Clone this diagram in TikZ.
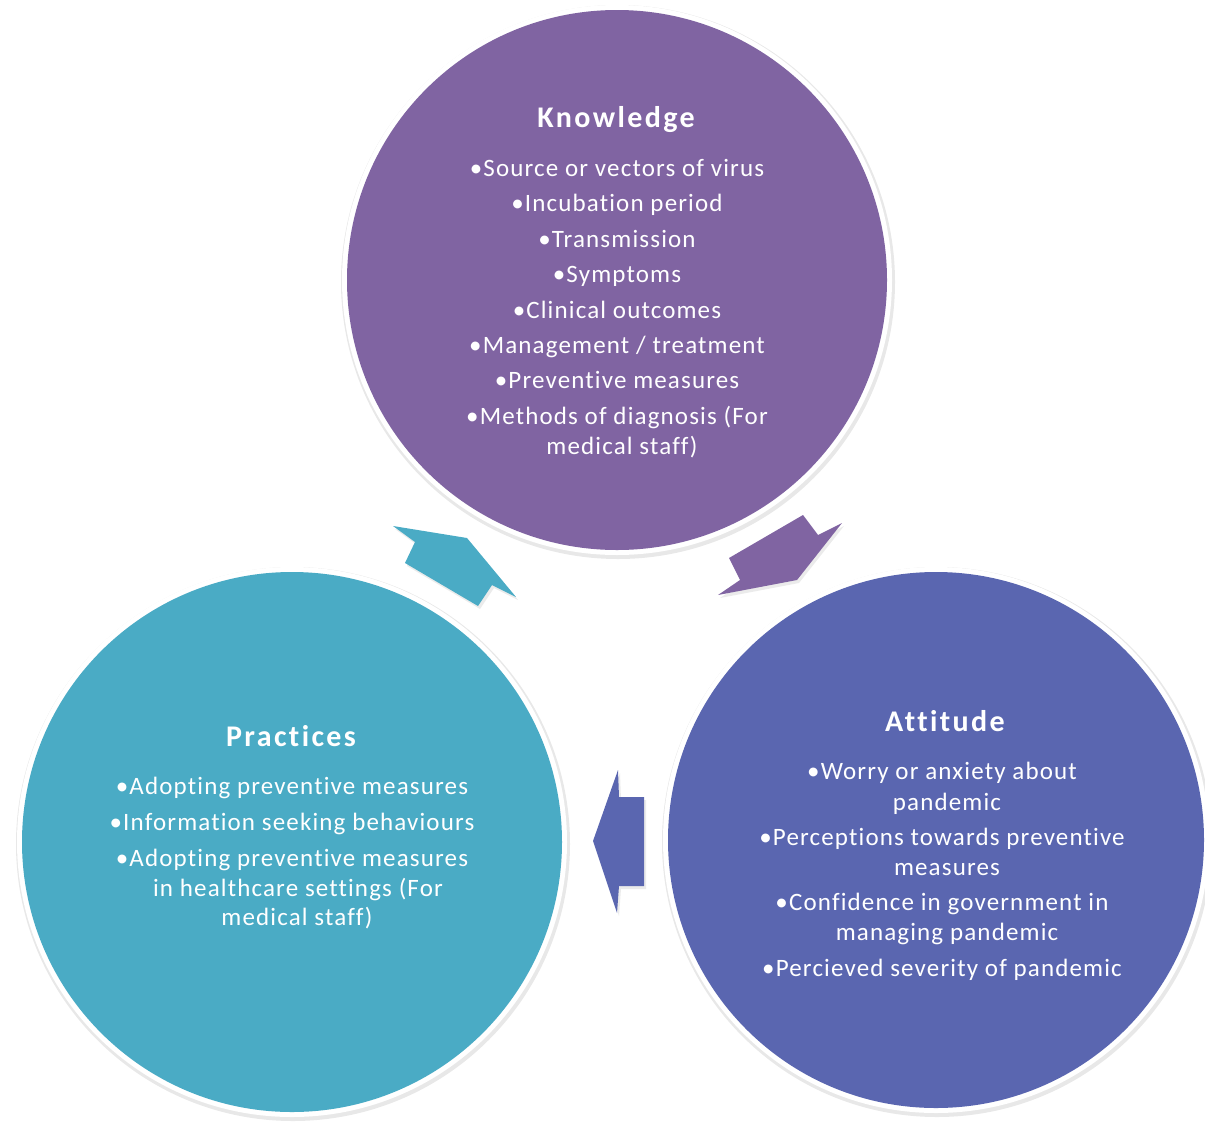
\documentclass[tikz,border=0pt]{standalone}
\usepackage{fontspec}
\setmainfont{Carlito}
\newfontfamily\bodyfont[LetterSpace=4.6,Ligatures=NoCommon]{Carlito}
\newfontfamily\titlefont[LetterSpace=8,Ligatures=NoCommon]{Carlito}
\definecolor{kpurple}{HTML}{8064A2}
\definecolor{ablue}{HTML}{5A66B0}
\definecolor{pteal}{HTML}{4AABC5}
\begin{document}
\begin{tikzpicture}[x=1pt,y=-1pt,
  title/.style={anchor=base,text=white,font=\titlefont\fontsize{30}{34}\selectfont\bfseries,inner sep=0pt},
  item/.style={anchor=base,text=white,font=\bodyfont\fontsize{25}{29}\selectfont,inner sep=0pt},
  bubble/.style={fill=#1},
  ring/.style={fill=white},
  halo/.style={fill=black!9},
  arrowshade/.style={fill=black!8}]
\useasboundingbox (0,0) rectangle (1205,1122);
% circles
\foreach \cx/\cy/\r/\c/\nm in {617/280/270/kpurple/K,292/842/270/pteal/P,936/840/268/ablue/A}{
  \fill[halo] (\cx+1,\cy+2) circle[radius=\r+7];
  \fill[ring] (\cx,\cy) circle[radius=\r+5];
  \fill[bubble=\c] (\cx,\cy) circle[radius=\r];
  \coordinate (\nm) at (\cx,\cy);
}
% arrows
\fill[arrowshade] (805,518) -- (820,538) -- (844,526) -- (799,583) -- (720,598) -- (742,583) -- (731,561) -- cycle;
\fill[kpurple] (803,515) -- (818,535) -- (842,523) -- (797,580) -- (718,595) -- (740,580) -- (729,558) -- cycle;
\fill[arrowshade] (407,566) -- (417,545) -- (395,529) -- (469,541) -- (518,600) -- (494,588) -- (480,609) -- cycle;
\fill[pteal] (405,563) -- (415,542) -- (393,526) -- (467,538) -- (516,597) -- (492,585) -- (478,606) -- cycle;
\fill[arrowshade] (620,773) -- (621,800) -- (646,800) -- (646,889) -- (621,889) -- (619,916) -- (595,844) -- cycle;
\fill[ablue] (618,770) -- (619,797) -- (644,797) -- (644,886) -- (619,886) -- (617,913) -- (593,841) -- cycle;
% Knowledge
\node[title] (kt) at (616,127) {Knowledge};
\node[item] (k1) at (617,176) {•Source or vectors of virus};
\node[item] (k2) at (617,211) {•Incubation period};
\node[item] (k3) at (617,247) {•Transmission};
\node[item] (k4) at (617,282) {•Symptoms};
\node[item] (k5) at (617,318) {•Clinical outcomes};
\node[item] (k6) at (617,353) {•Management / treatment};
\node[item] (k7) at (617,388) {•Preventive measures};
\node[item] (k8) at (617,424) {•Methods of diagnosis (For};
\node[item] (k9) at (622,454) {medical staff)};
% Practices
\node[title] (pt) at (291,746) {Practices};
\node[item] (p1) at (292,794) {•Adopting preventive measures};
\node[item] (p2) at (292,830) {•Information seeking behaviours};
\node[item] (p3) at (292,866) {•Adopting preventive measures};
\node[item] (p4) at (298,896) {in healthcare settings (For};
\node[item] (p5) at (297,925) {medical staff)};
% Attitude
\node[title] (at) at (945,731) {Attitude};
\node[item] (a1) at (942,779) {•Worry or anxiety about};
\node[item] (a2) at (947,810) {pandemic};
\node[item] (a3) at (942,845) {•Perceptions towards preventive};
\node[item] (a4) at (947,875) {measures};
\node[item] (a5) at (942,910) {•Confidence in government in};
\node[item] (a6) at (947,940) {managing pandemic};
\node[item] (a7) at (942,976) {•Percieved severity of pandemic};
\end{tikzpicture}
\end{document}
